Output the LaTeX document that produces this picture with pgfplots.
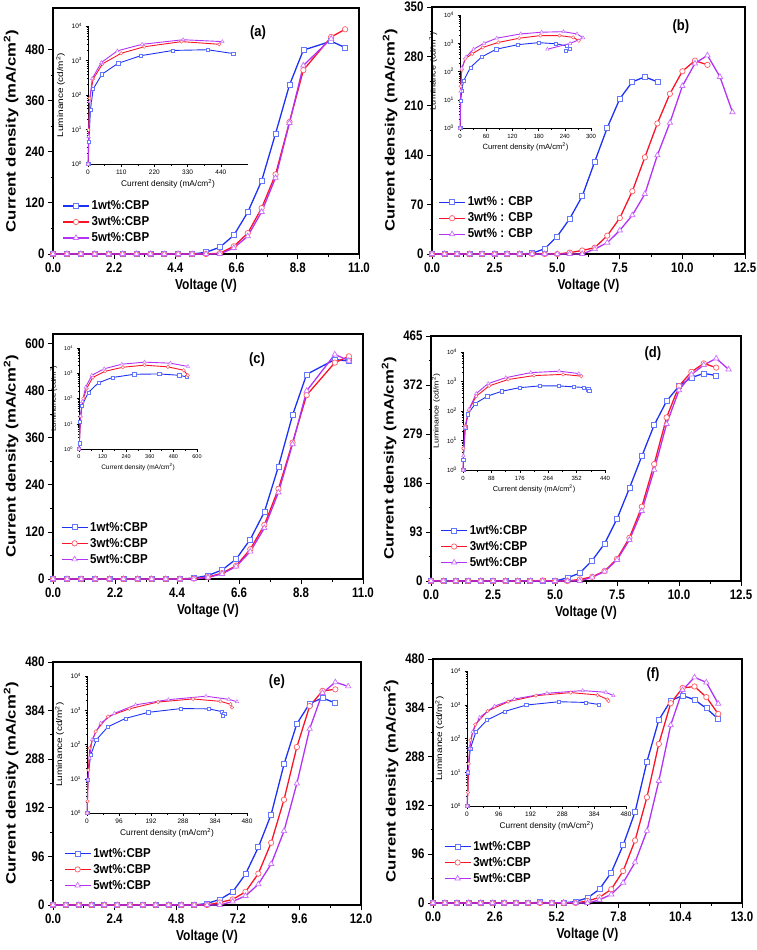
\documentclass[border=0pt]{standalone}
\usepackage{pgfplots}
\pgfplotsset{compat=1.18}
\usepackage{fontspec}
\setmainfont{Liberation Sans}
\usepackage{graphicx}
\definecolor{cblue}{RGB}{30,50,245}
\definecolor{cred}{RGB}{250,20,40}
\definecolor{cpur}{RGB}{180,50,245}
\definecolor{mblue}{RGB}{100,120,255}
\definecolor{mred}{RGB}{255,90,100}
\definecolor{mpur}{RGB}{205,110,255}
\newcommand{\tl}[1]{\scalebox{1}[1.2]{\bfseries\fontsize{11.5}{12}\selectfont #1}}
\newcommand{\plab}[1]{\scalebox{1}[1.15]{\bfseries\fontsize{13}{14}\selectfont #1}}
\newcommand{\lgd}[1]{\scalebox{1}[1.12]{#1}}
\pgfplotsset{
  mainax/.style={
    scale only axis, xmin=0, ymin=0, clip=false,
    axis line style={line width=1.3pt},
    every tick/.style={black, line width=0.9pt},
    tick align=outside, major tick length=5pt, minor tick length=2.5pt,
    xtick pos=bottom, ytick pos=left, minor tick num=1,
    /pgf/number format/assume math mode=true,
    xticklabel={\tl{\pgfmathprintnumber[fixed,fixed zerofill,precision=1]{\tick}}},
    yticklabel={\tl{\pgfmathprintnumber[fixed,precision=0]{\tick}}},
    xlabel={\scalebox{1}[1.2]{\bfseries\fontsize{12}{13}\selectfont Voltage (V)}},
    ylabel={\scalebox{1.24}[1]{\bfseries\fontsize{13.5}{14}\selectfont Current density (mA/cm\textsuperscript{2})}},
    legend cell align=left,
    legend style={draw=none, fill=none, anchor=south west, at={(0.03,0.035)}, font=\bfseries\fontsize{11.5}{12}\selectfont, row sep=1.5pt, inner sep=0pt},
    legend image code/.code={\draw[mark repeat=2,mark phase=2] plot coordinates {(0pt,0pt) (13pt,0pt) (26pt,0pt)};},
  },
  inax/.style={
    scale only axis, ymin=1, ymax=10000, xmin=0, clip=false,
    axis x line*=bottom, axis y line*=left, axis line style={-, line width=0.8pt},
    every tick/.style={black, line width=0.5pt},
    tick align=outside, major tick length=2.5pt, minor tick length=1.5pt,
    xtick pos=bottom, ytick pos=left,
    ytick={1,10,100,1000,10000},
    yticklabels={10\textsuperscript{0},10\textsuperscript{1},10\textsuperscript{2},10\textsuperscript{3},10\textsuperscript{4}},
    minor x tick num=1,
    /pgf/number format/assume math mode=true,
    xticklabel={\pgfmathprintnumber{\tick}},
    xlabel={Current density (mA/cm\textsuperscript{2})},
    ylabel={\scalebox{1.2}[1]{Luminance (cd/m\textsuperscript{2})}},
    xlabel style={yshift=2pt}, ylabel style={yshift=0pt},
  },
  pb/.style={color=cblue, line width=1.3pt, mark=square*, mark size=2.5pt, mark options={solid, draw=mblue, fill=white, line width=0.7pt}},
  pr/.style={color=cred, line width=1.3pt, mark=*, mark size=2.7pt, mark options={solid, draw=mred, fill=white, line width=0.7pt}},
  pp/.style={color=cpur, line width=1.3pt, mark=triangle*, mark size=3.1pt, mark options={solid, draw=mpur, fill=white, line width=0.7pt}},
  ib/.style={color=cblue, line width=0.9pt, mark=square*, mark size=1.6pt, mark options={solid, draw=mblue, fill=white, line width=0.5pt}},
  ir/.style={color=cred, line width=0.9pt, mark=*, mark size=1.7pt, mark options={solid, draw=mred, fill=white, line width=0.5pt}},
  ip/.style={color=cpur, line width=0.9pt, mark=triangle*, mark size=2pt, mark options={solid, draw=mpur, fill=white, line width=0.5pt}},
}
\begin{document}
\begin{tikzpicture}
\path[use as bounding box] (0pt,0pt) rectangle (756pt,-950pt);

% ---------------- (a)
\begin{axis}[mainax, at={(53pt,-254pt)}, anchor=south west, width=306pt, height=246pt,
  xmax=11, ymax=578, xtick={0,2.2,4.4,6.6,8.8,11}, ytick={0,120,240,360,480}]
\addplot[pb] coordinates {(0,0)(0.5,0)(1,0)(1.5,0)(2,0)(2.5,0)(3,0)(3.5,0)(4,0)(4.5,0)(5,0)(5.5,4)(6,16)(6.5,44)(7,98)(7.5,172)(8,283)(8.5,397)(9,479)(10,500)(10.5,485)};
\addplot[pr] coordinates {(0,0)(0.5,0)(1,0)(1.5,0)(2,0)(2.5,0)(3,0)(3.5,0)(4,0)(4.5,0)(5,0)(5.5,0)(6,2)(6.5,18)(7,49)(7.5,108)(8,187)(8.5,310)(9,432)(10,510)(10.5,528)};
\addplot[pp] coordinates {(0,0)(0.5,0)(1,0)(1.5,0)(2,0)(2.5,0)(3,0)(3.5,0)(4,0)(4.5,0)(5,0)(5.5,0)(6,0)(6.5,14)(7,42)(7.5,99)(8,179)(8.5,308)(9,443)(10,506)};
\legend{\lgd{1wt\%:CBP},\lgd{3wt\%:CBP},\lgd{5wt\%:CBP}}
\node at (rel axis cs:0.67,0.898) {\plab{(a)}};
\end{axis}
\begin{semilogyaxis}[inax, at={(88pt,-164pt)}, anchor=south west, width=160pt, height=138pt,
  xmax=530, xtick={0,110,220,330,440},
  label style={font=\fontsize{8.3}{9}\selectfont}, tick label style={font=\fontsize{6.5}{7}\selectfont}]
\addplot[ib] coordinates {(0.5,1)(3,4.4)(8,37)(17,148)(46,400)(100,830)(175,1380)(282,1960)(396,2050)(481,1590)};
\addplot[ir] coordinates {(0.5,1)(2,9.7)(5.5,80)(17,290)(48,800)(110,1620)(186,2500)(310,3530)(435,2950)};
\addplot[ip] coordinates {(0.5,1)(2,6.2)(5.5,64)(14,300)(44,870)(97,1900)(179,2950)(315,4000)(445,3530)};
\end{semilogyaxis}

% ---------------- (b)
\begin{axis}[mainax, at={(432pt,-254pt)}, anchor=south west, width=313pt, height=247pt,
  xmax=12.5, ymax=350, xtick={0,2.5,5,7.5,10,12.5}, ytick={0,70,140,210,280,350},
  legend style={at={(0.02,0.05)}}]
\addplot[pb] coordinates {(0,0)(0.5,0)(1,0)(1.5,0)(2,0)(2.5,0)(3,0)(3.5,0)(4,1)(4.5,7.5)(5,25)(5.5,50)(6,82)(6.5,131)(7,179)(7.5,220)(8,244)(8.5,251)(9,244)};
\addplot[pr] coordinates {(0,0)(0.5,0)(1,0)(1.5,0)(2,0)(2.5,0)(3,0)(3.5,0)(4,0)(4.5,0)(5,0)(5.5,2)(6,5)(6.5,9)(7,26)(7.5,51)(8,89)(8.5,137)(9,185)(9.5,227)(10,259)(10.5,274)(11,268)};
\addplot[pp] coordinates {(0,0)(0.5,0)(1,0)(1.5,0)(2,0)(2.5,0)(3,0)(3.5,0)(4,0)(4.5,0)(5,0)(5.5,0)(6,0)(6.5,7)(7,16)(7.5,33.5)(8,55)(8.5,85)(9,140)(9.5,186)(10,238)(10.5,270)(11,281.5)(11.5,251)(12,201)};
\legend{\lgd{1wt\% : CBP},\lgd{3wt\% : CBP},\lgd{5wt\% : CBP}}
\node at (rel axis cs:0.795,0.919) {\plab{(b)}};
\end{axis}
\begin{semilogyaxis}[inax, at={(460pt,-128pt)}, anchor=south west, width=131pt, height=113pt,
  xmax=300, xtick={0,60,120,180,240,300},
  label style={font=\fontsize{7.6}{8}\selectfont}, tick label style={font=\fontsize{6}{7}\selectfont}]
\addplot[ib] coordinates {(0.5,1)(1.5,9.3)(4,21)(8,46)(24,140)(50,330)(83,615)(132,890)(180,1050)(220,960)(245,800)(252,640)(243,560)};
\addplot[ir] coordinates {(0.5,1)(1.5,30)(4,115)(11.5,280)(28,425)(52,710)(88,1070)(136,1510)(184,1870)(228,1870)(259,1620)(272,1230)};
\addplot[ip] coordinates {(0.5,1)(1.5,20)(4,132)(14,330)(31,615)(55,1000)(84,1510)(139,2140)(187,2460)(237,2570)(268,2140)(282,1550)(252,980)(200,615)};
\end{semilogyaxis}

% ---------------- (c)
\begin{axis}[mainax, at={(53pt,-579pt)}, anchor=south west, width=310pt, height=245pt,
  xmax=11, ymax=625, xtick={0,2.2,4.4,6.6,8.8,11}, ytick={0,120,240,360,480,600},
  legend style={at={(0.025,0.05)}}]
\addplot[pb] coordinates {(0,0)(0.5,0)(1,0)(1.5,0)(2,0)(2.5,0)(3,0)(3.5,0)(4,0)(4.5,0)(5,2.5)(5.5,9)(6,23)(6.5,51)(7,101)(7.5,171)(8,287)(8.5,418)(9,522)(10,560)(10.5,556)};
\addplot[pr] coordinates {(0,0)(0.5,0)(1,0)(1.5,0)(2,0)(2.5,0)(3,0)(3.5,0)(4,0)(4.5,0)(5,1)(5.5,5)(6,15)(6.5,34)(7,76)(7.5,138)(8,230)(8.5,348)(9,469)(10,552)(10.5,568)};
\addplot[pp] coordinates {(0,0)(0.5,0)(1,0)(1.5,0)(2,0)(2.5,0)(3,0)(3.5,0)(4,0)(4.5,0)(5,0)(5.5,4)(6,13)(6.5,32)(7,70)(7.5,130)(8,221)(8.5,344)(9,480)(10,573)(10.5,557)};
\legend{\lgd{1wt\%:CBP},\lgd{3wt\%:CBP},\lgd{5wt\%:CBP}}
\node at (rel axis cs:0.658,0.894) {\plab{(c)}};
\end{axis}
\begin{semilogyaxis}[inax, at={(79pt,-449pt)}, anchor=south west, width=118pt, height=101pt,
  xmax=600, xtick={0,120,240,360,480,600},
  label style={font=\fontsize{6.5}{7}\selectfont}, tick label style={font=\fontsize{5.5}{6}\selectfont}]
\addplot[ib] coordinates {(0.5,1)(2,1.7)(5,12)(14,50)(48,175)(99,420)(170,680)(281,910)(408,940)(510,830)(546,720)};
\addplot[ir] coordinates {(0.5,1)(8,20)(22,100)(39,250)(70,680)(133,1200)(223,1730)(333,2090)(452,1790)(532,1320)(553,830)};
\addplot[ip] coordinates {(0.5,1)(8,20)(17,76)(34,280)(65,830)(128,1500)(218,2290)(333,2750)(464,2510)(554,1860)};
\end{semilogyaxis}

% ---------------- (d)
\begin{axis}[mainax, at={(431pt,-581pt)}, anchor=south west, width=310pt, height=245pt,
  xmax=12.5, ymax=465, xtick={0,2.5,5,7.5,10,12.5}, ytick={0,93,186,279,372,465},
  legend style={at={(0.03,0.045)}}]
\addplot[pb] coordinates {(0,0)(0.5,0)(1,0)(1.5,0)(2,0)(2.5,0)(3,0)(3.5,0)(4,0)(4.5,0)(5,0)(5.5,6)(6,15)(6.5,39)(7,71)(7.5,118)(8,176)(8.5,237)(9,296)(9.5,341.5)(10,370)(10.5,386)(11,394)(11.5,390)};
\addplot[pr] coordinates {(0,0)(0.5,0)(1,0)(1.5,0)(2,0)(2.5,0)(3,0)(3.5,0)(4,0)(4.5,1)(5,0)(5.5,0)(6,3)(6.5,8)(7,19)(7.5,42)(8,82)(8.5,141)(9,222)(9.5,310.5)(10,370)(10.5,397)(11,413)(11.5,405)};
\addplot[pp] coordinates {(0,0)(0.5,0)(1,0)(1.5,0)(2,0)(2.5,0)(3,0)(3.5,0)(4,0)(4.5,0)(5,0)(5.5,0)(6,0)(6.5,7)(7,18)(7.5,40)(8,78)(8.5,133)(9,211)(9.5,298)(10,362)(10.5,392)(11,410)(11.5,422.5)(12,401.6)};
\legend{\lgd{1wt\%:CBP},\lgd{3wt\%:CBP},\lgd{5wt\%:CBP}}
\node at (rel axis cs:0.716,0.93) {\plab{(d)}};
\end{axis}
\begin{semilogyaxis}[inax, at={(463pt,-470pt)}, anchor=south west, width=142pt, height=118pt,
  xmax=440, xtick={0,88,176,264,352,440},
  label style={font=\fontsize{7.3}{8}\selectfont}, tick label style={font=\fontsize{6}{7}\selectfont}]
\addplot[ib] coordinates {(0.5,1)(1,2.2)(7,28)(15.5,78)(38,180)(75,316)(121,470)(176,620)(238,710)(297,710)(342,660)(373,630)(388,550)(391,490)};
\addplot[ir] coordinates {(0.5,1)(1,5.4)(7,31)(17.6,107)(41,316)(81,710)(140,1170)(220,1590)(310,1740)(367,1520)};
\addplot[ip] coordinates {(0.5,1)(1,3)(7,28)(18.6,115)(41,390)(78,850)(132.5,1350)(210,2000)(298,2240)(359,1860)};
\end{semilogyaxis}

% ---------------- (e)
\begin{axis}[mainax, at={(53pt,-905pt)}, anchor=south west, width=308pt, height=243pt,
  xmax=12, ymax=480, xtick={0,2.4,4.8,7.2,9.6,12}, ytick={0,96,192,288,384,480},
  legend style={at={(0.035,0.05)}}]
\addplot[pb] coordinates {(0,0)(0.5,0)(1,0)(1.5,0)(2,0)(2.5,0)(3,0)(3.5,0)(4,0)(4.5,1)(5,0)(5.5,0)(6,3)(6.5,11)(7,26)(7.5,61)(8,114)(8.5,179)(9,278)(9.5,358)(10,398)(10.5,409)(11,399)};
\addplot[pr] coordinates {(0,0)(0.5,0)(1,0)(1.5,0)(2,0)(2.5,0)(3,0)(3.5,0)(4,0)(4.5,0)(5,0)(5.5,0)(6,0)(6.5,5)(7,11)(7.5,26)(8,62)(8.5,123)(9,208)(9.5,312)(10,393)(10.5,423)(11,426)};
\addplot[pp] coordinates {(0,0)(0.5,0)(1,0)(1.5,0)(2,0)(2.5,0)(3,0)(3.5,0)(4,0)(4.5,0)(5,0)(5.5,0)(6,0)(6.5,0)(7,7)(7.5,18)(8,41)(8.5,81)(9,146)(9.5,240)(10,348)(10.5,419)(11,440)(11.5,432)};
\legend{\lgd{1wt\%:CBP},\lgd{3wt\%:CBP},\lgd{5wt\%:CBP}}
\node at (rel axis cs:0.727,0.918) {\plab{(e)}};
\end{axis}
\begin{semilogyaxis}[inax, at={(87pt,-813pt)}, anchor=south west, width=160pt, height=137pt,
  xmax=480, xtick={0,96,192,288,384,480},
  label style={font=\fontsize{8.3}{9}\selectfont}, tick label style={font=\fontsize{6.5}{7}\selectfont}]
\addplot[ib] coordinates {(0.5,1)(2,9.3)(11,49)(28,138)(63,330)(116,580)(184,870)(282,1120)(366,1100)(405,910)(412,810)(407,680)};
\addplot[ir] coordinates {(0.5,1)(1.5,2.2)(4,18)(8,78)(26,240)(63,660)(127,1100)(213,1740)(318,2140)(400,1820)(430,1510)(435,1200)};
\addplot[ip] coordinates {(0.5,1)(3,9.3)(8,40)(15,138)(41,420)(82,810)(146,1440)(244,2040)(357,2570)(425,2090)(450,1780)};
\end{semilogyaxis}

% ---------------- (f)
\begin{axis}[mainax, at={(433pt,-903pt)}, anchor=south west, width=309pt, height=244pt,
  xmax=13, ymax=480, xtick={0,2.6,5.2,7.8,10.4,13}, ytick={0,96,192,288,384,480},
  legend style={at={(0.035,0.07)}}]
\addplot[pb] coordinates {(0,0)(0.5,0)(1,0)(1.5,0)(2,0)(2.5,0)(3,0)(3.5,0)(4,0)(4.5,1.5)(5,0)(5.5,0)(6,3)(6.5,10)(7,27)(7.5,60)(8,114)(8.5,179)(9,278)(9.5,360)(10,398)(10.5,408)(11,400)(11.5,383)(12,362)};
\addplot[pr] coordinates {(0,0)(0.5,0)(1,0)(1.5,0)(2,0)(2.5,0)(3,0)(3.5,0)(4,0)(4.5,0)(5,0)(5.5,0)(6,0)(6.5,4)(7,11)(7.5,27)(8,63)(8.5,123)(9,208)(9.5,313)(10,393)(10.5,423)(11,426)(11.5,405)(12,372)};
\addplot[pp] coordinates {(0,0)(0.5,0)(1,0)(1.5,0)(2,0)(2.5,0)(3,0)(3.5,0)(4,0)(4.5,0)(5,0)(5.5,1)(6,0)(6.5,0)(7,6)(7.5,17)(8,40)(8.5,80)(9,142)(9.5,240)(10,350)(10.5,419)(11,444)(11.5,434)(12,392)};
\legend{\lgd{1wt\%:CBP},\lgd{3wt\%:CBP},\lgd{5wt\%:CBP}}
\node at (rel axis cs:0.712,0.934) {\plab{(f)}};
\end{axis}
\begin{semilogyaxis}[inax, at={(467pt,-806pt)}, anchor=south west, width=159pt, height=135pt,
  xmax=480, xtick={0,96,192,288,384,480},
  label style={font=\fontsize{8.3}{9}\selectfont}, tick label style={font=\fontsize{6.5}{7}\selectfont}]
\addplot[ib] coordinates {(0.5,1)(3,10)(10,50)(27,158)(60,350)(113,630)(179,980)(278,1230)(359,1170)(397,1020)};
\addplot[ir] coordinates {(0.5,1)(3,2.5)(5,18)(10,89)(25,260)(62,650)(124,1230)(208,1860)(313,2290)(394,1950)(424,1440)(427,1290)};
\addplot[ip] coordinates {(0.5,1)(3,10)(8,50)(17,158)(38,420)(83,910)(143,1480)(241,2190)(349,2630)(419,2340)(442,1860)};
\end{semilogyaxis}
\end{tikzpicture}
\end{document}
